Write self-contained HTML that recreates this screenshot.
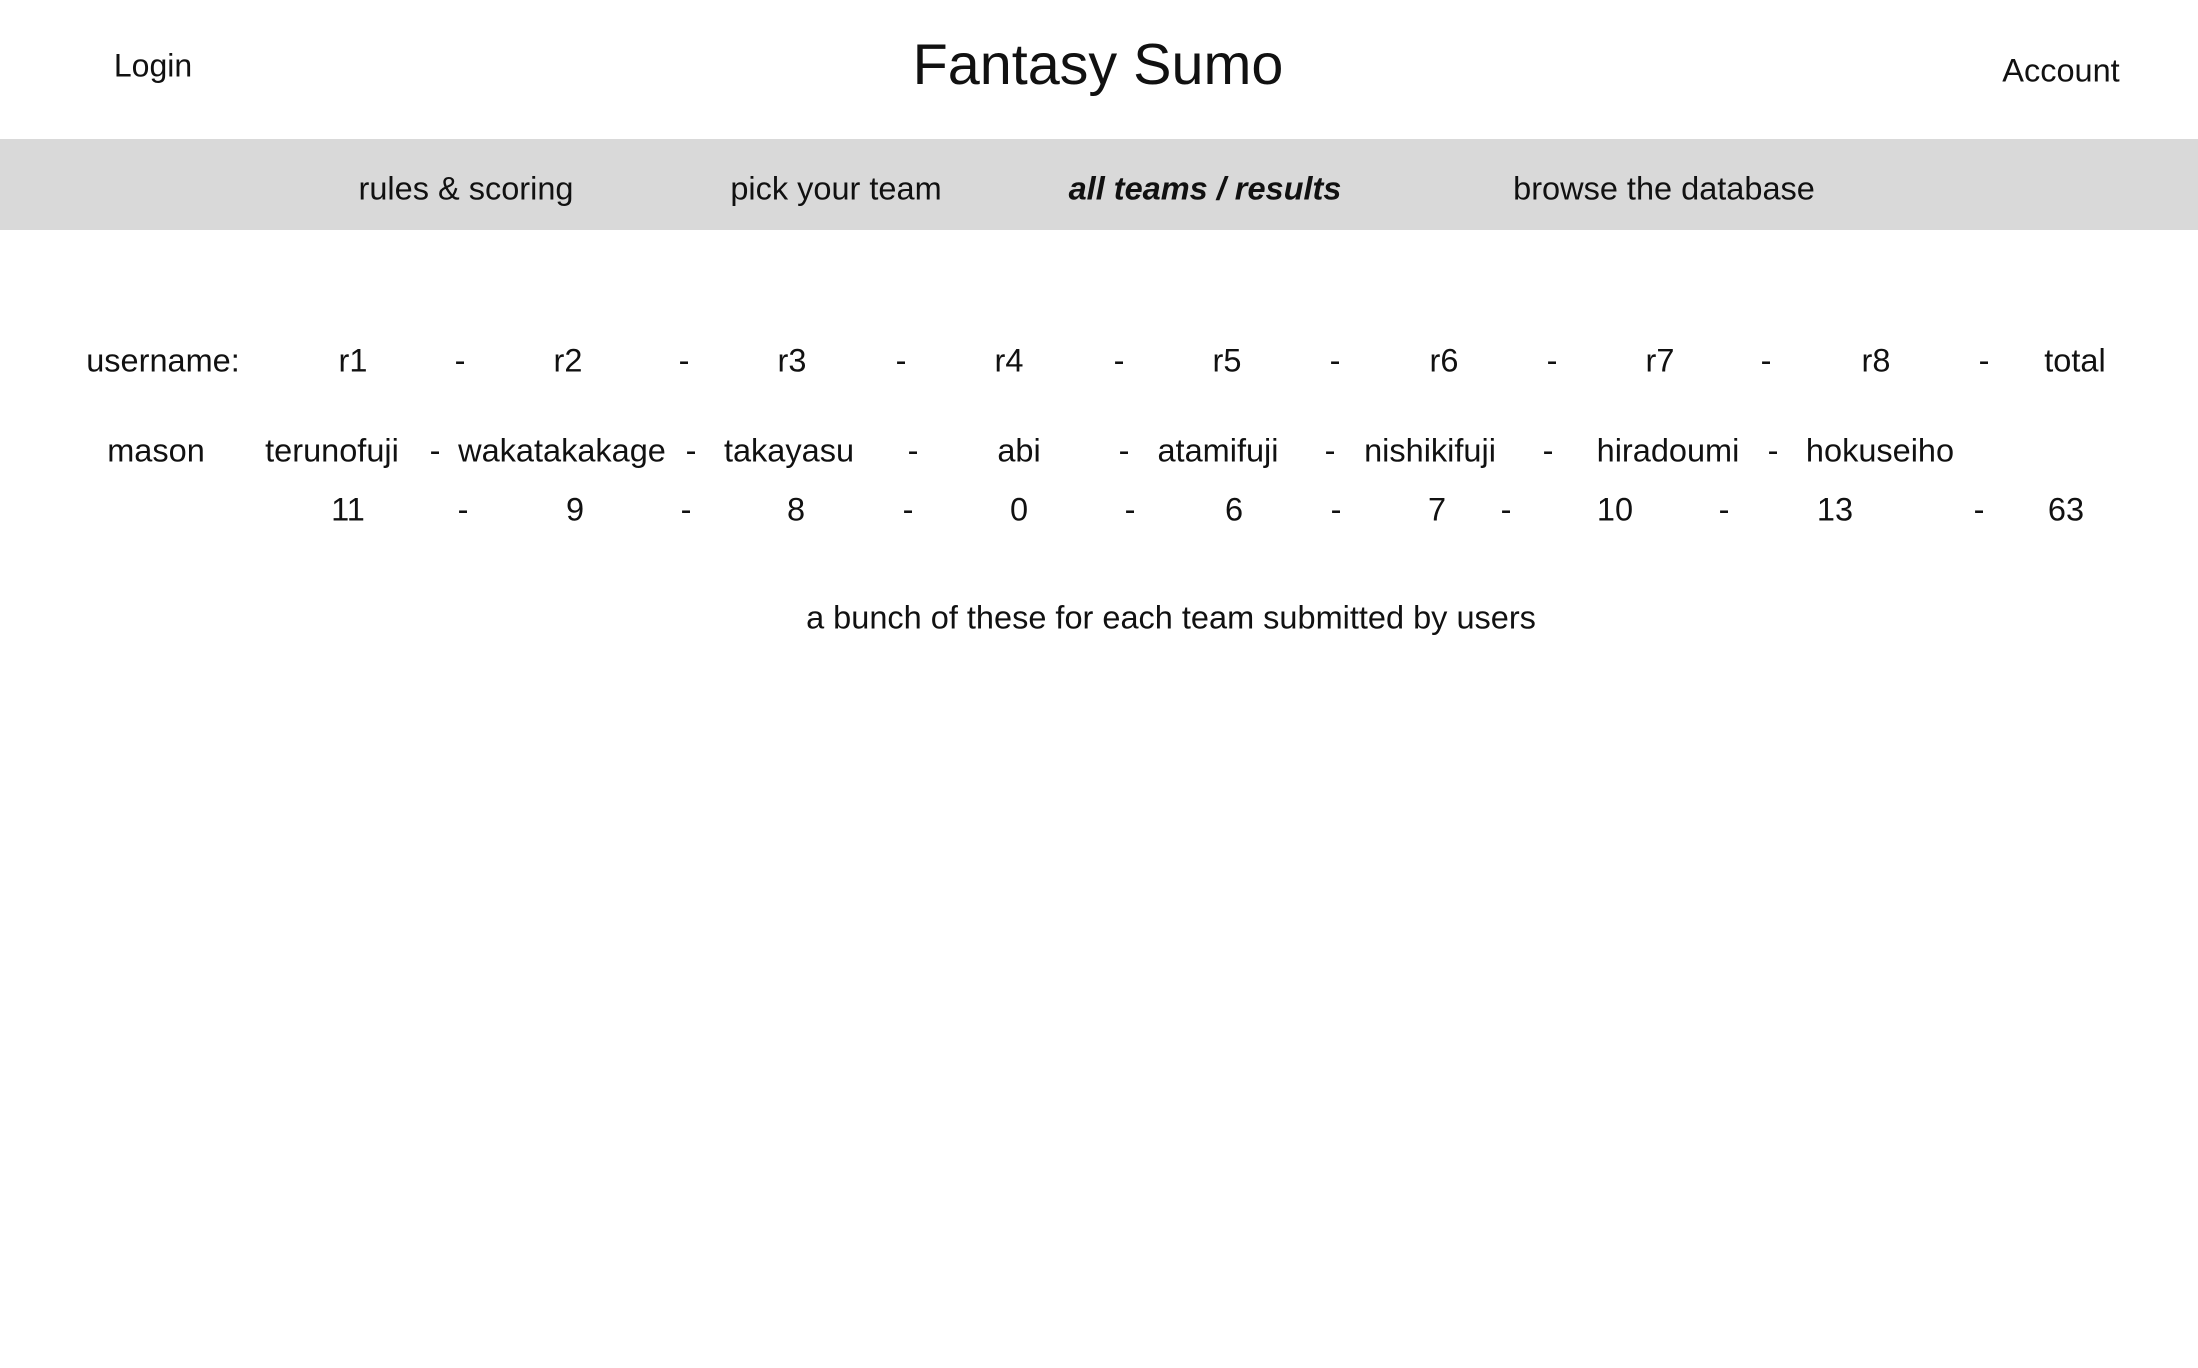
<!DOCTYPE html>
<html><head><meta charset="utf-8">
<style>
html,body{margin:0;padding:0;background:#fff;}
body{width:2198px;height:1368px;position:relative;overflow:hidden;font-family:"Liberation Sans",sans-serif;color:#111;}
.t{position:absolute;transform:translate(-50%,-50%);white-space:nowrap;font-size:32.5px;}
#nav{position:absolute;left:0;top:139px;width:2198px;height:91px;background:#d9d9d9;}
</style></head><body>
<span class="t" style="left:153px;top:66px;font-size:32px">Login</span>
<span class="t" style="left:1098px;top:65px;font-size:57.5px">Fantasy Sumo</span>
<span class="t" style="left:2061px;top:71px;font-size:32.5px">Account</span>
<div id="nav"></div>
<span class="t" style="left:466px;top:189px">rules &amp; scoring</span>
<span class="t" style="left:836px;top:189px">pick your team</span>
<span class="t" style="left:1205px;top:189px;font-weight:bold;font-style:italic">all teams / results</span>
<span class="t" style="left:1664px;top:189px">browse the database</span>
<div id="rows"></div>
<span class="t" style="left:1171px;top:618px">a bunch of these for each team submitted by users</span>
<script>
const headerLabels=[["username:",163],["r1",353],["-",460],["r2",568],["-",684],["r3",792],["-",901],["r4",1009],["-",1119],["r5",1227],["-",1335],["r6",1444],["-",1552],["r7",1660],["-",1766],["r8",1876],["-",1984],["total",2075]];
const nameLabels=[["mason",156],["terunofuji",332],["-",435],["wakatakakage",562],["-",691],["takayasu",789],["-",913],["abi",1019],["-",1124],["atamifuji",1218],["-",1330],["nishikifuji",1430],["-",1548],["hiradoumi",1668],["-",1773],["hokuseiho",1880]];
const scoreLabels=[["11",348],["-",463],["9",575],["-",686],["8",796],["-",908],["0",1019],["-",1130],["6",1234],["-",1336],["7",1437],["-",1506],["10",1615],["-",1724],["13",1835],["-",1979],["63",2066]];
function row(arr,y,name){
  arr.forEach(([txt,x])=>{
    const s=document.createElement('span');
    s.className='t';
    s.textContent=txt;
    s.style.left=x+'px';s.style.top=y+'px';
    
    
    document.body.appendChild(s);
  });
}
row(headerLabels,361,'header-cell');
row(nameLabels,451,'team-name-cell');
row(scoreLabels,510,'score-cell');
</script>
</body></html>
